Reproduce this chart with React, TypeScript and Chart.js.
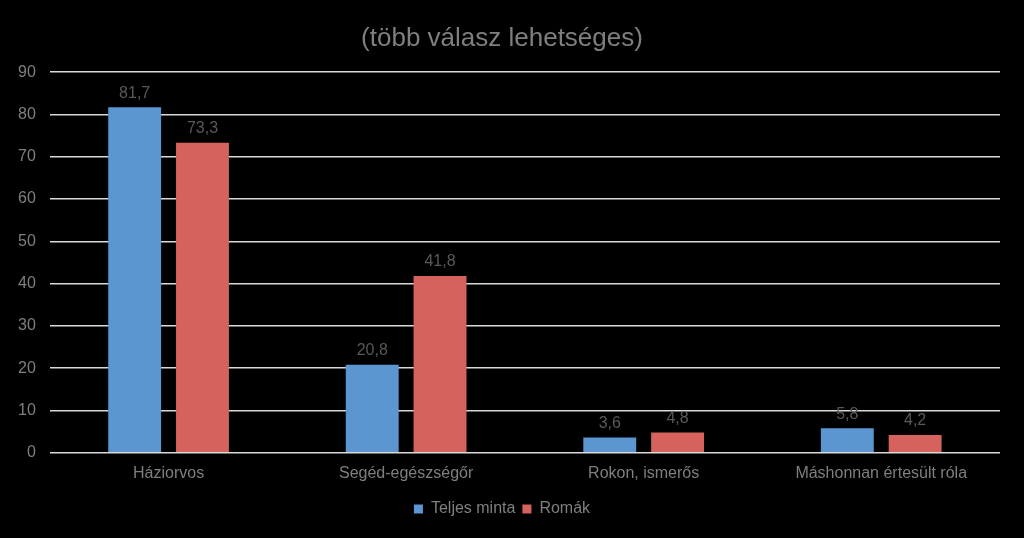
import React, { useEffect, useRef } from "react";
import { Chart, registerables } from "chart.js";

Chart.register(...registerables);

const categories = ["Háziorvos", "Segéd-egészségőr", "Rokon, ismerős", "Máshonnan értesült róla"];
const teljesMinta = [81.7, 20.8, 3.6, 5.8];
const romak = [73.3, 41.8, 4.8, 4.2];
const seriesNames = ["Teljes minta", "Romák"];
const titleText = "(több válasz lehetséges)";

const labelPlugin = {
  id: "barLabels",
  afterDatasetsDraw(chart: any) {
    const ctx = chart.ctx;
    ctx.save();
    ctx.font = "16px 'Liberation Sans', Arial, sans-serif";
    ctx.fillStyle = "#595959";
    ctx.textAlign = "center";
    ctx.textBaseline = "bottom";
    chart.data.datasets.forEach((ds: any, i: number) => {
      const meta = chart.getDatasetMeta(i);
      meta.data.forEach((bar: any, j: number) => {
        const v = ds.data[j];
        ctx.fillText(String(v).replace(".", ","), bar.x, bar.y - 6);
      });
    });
    ctx.restore();
  },
};

export default function App() {
  const ref = useRef<HTMLCanvasElement>(null);
  useEffect(() => {
    const font = { family: "'Liberation Sans', Arial, sans-serif", size: 16 };
    const chart = new Chart(ref.current!, {
      type: "bar",
      data: {
        labels: categories,
        datasets: [
          { label: seriesNames[0], data: teljesMinta, backgroundColor: "#5b96d0", borderWidth: 0 },
          { label: seriesNames[1], data: romak, backgroundColor: "#d5625d", borderWidth: 0 },
        ],
      },
      options: {
        animation: false,
        responsive: false,
        categoryPercentage: 0.571,
        barPercentage: 0.78,
        layout: { padding: { left: 4, right: 24, top: 0, bottom: 11 } },
        plugins: {
          title: {
            display: true,
            text: titleText,
            color: "#7f7f7f",
            font: { family: "'Liberation Sans', Arial, sans-serif", size: 26, weight: "normal" },
            padding: { top: 23, bottom: 18 },
          },
          legend: {
            position: "bottom",
            labels: {
              color: "#7f7f7f",
              font,
              boxWidth: 9,
              boxHeight: 9,
              padding: 7,
            },
          },
          tooltip: { enabled: false },
        },
        scales: {
          x: {
            grid: { display: false, drawTicks: false },
            border: { display: false },
            ticks: { color: "#7f7f7f", font, padding: 11 },
          },
          y: {
            min: 0,
            max: 90,
            ticks: { stepSize: 10, color: "#7f7f7f", font, padding: 14 },
            grid: { color: "#d9d9d9", lineWidth: 1.5, drawTicks: false },
            border: { display: false },
          },
        },
      },
      plugins: [labelPlugin],
    });
    return () => chart.destroy();
  }, []);
  return (
    <div style={{ position: "fixed", left: 0, top: 0, width: 1024, height: 538, background: "#000" }}>
      <canvas ref={ref} width={1024} height={538} />
    </div>
  );
}
